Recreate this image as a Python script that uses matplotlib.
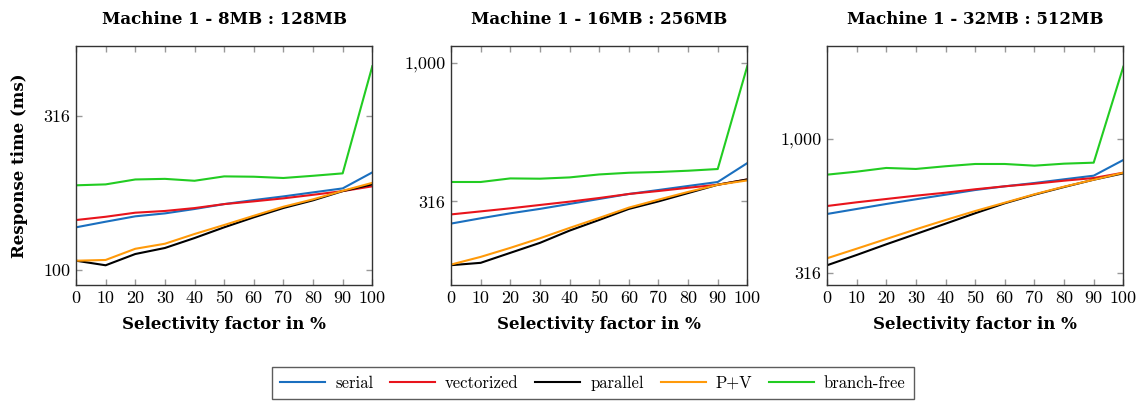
import numpy as np
import matplotlib
matplotlib.use("Agg")
import matplotlib.pyplot as plt
from matplotlib.ticker import FixedLocator, FuncFormatter, NullLocator

# selectivity factor in %
sel = [0, 10, 20, 30, 40, 50, 60, 70, 80, 90, 100]

titles = ["Machine 1 - 8MB : 128MB",
          "Machine 1 - 16MB : 256MB",
          "Machine 1 - 32MB : 512MB"]

# response times (ms), one list per panel
serial_8 = [137.6, 143.5, 149.4, 152.7, 157.8, 163.7, 168.7, 173.4, 178.7, 184.1, 207.5]
vector_8 = [145.3, 148.9, 153.5, 155.5, 158.9, 163.7, 167.1, 170.9, 175.5, 180.4, 187.0]
parall_8 = [107.2, 103.6, 112.7, 117.9, 127.0, 137.6, 148.3, 159.0, 168.4, 180.4, 189.7]
pv_8 = [107.2, 107.8, 117.2, 121.7, 130.9, 140.0, 150.0, 160.5, 169.6, 180.8, 191.9]
bfree_8 = [188.4, 189.7, 196.8, 197.7, 194.9, 201.4, 200.9, 199.0, 202.3, 206.0, 459.0]

serial_16 = [263.0, 274.8, 286.4, 297.1, 309.6, 322.6, 336.2, 347.5, 359.3, 371.4, 434.6]
vector_16 = [283.8, 291.0, 298.5, 306.9, 315.5, 325.2, 336.2, 344.6, 354.0, 363.0, 379.4]
parall_16 = [186.2, 189.9, 206.3, 224.1, 248.1, 271.1, 297.0, 316.2, 338.8, 363.0, 379.4]
pv_16 = [187.2, 199.5, 215.0, 232.8, 253.7, 275.6, 300.2, 320.7, 342.0, 363.0, 376.3]
bfree_16 = [371.4, 371.4, 382.6, 381.7, 385.8, 395.4, 401.0, 403.5, 407.8, 413.6, 973.0]

serial_32 = [524.6, 547.6, 571.6, 595.0, 618.9, 644.2, 665.0, 684.1, 706.2, 728.4, 833.2]
vector_32 = [561.7, 579.8, 596.5, 613.7, 629.6, 648.3, 665.0, 680.0, 697.8, 714.0, 747.3]
parall_32 = [338.0, 369.2, 404.6, 441.9, 482.8, 527.9, 575.1, 618.9, 661.0, 703.8, 743.4]
pv_32 = [358.9, 389.6, 423.4, 460.0, 498.2, 538.1, 577.9, 621.1, 662.9, 703.8, 747.3]
bfree_32 = [734.8, 753.9, 778.3, 771.6, 789.7, 805.2, 805.2, 793.6, 807.4, 814.3, 1853.0]

names = ["serial", "vectorized", "parallel", "P+V", "branch-free"]
colors = ["#1a6fbf", "#e8141c", "#000000", "#ff9a0a", "#22cc22"]

panels = [
    [serial_8, vector_8, parall_8, pv_8, bfree_8],
    [serial_16, vector_16, parall_16, pv_16, bfree_16],
    [serial_32, vector_32, parall_32, pv_32, bfree_32],
]
ylims = [(89.4, 534), (158, 1148), (285.5, 2213)]
yticks = [[100, 316], [316, 1000], [316, 1000]]
lefts = [0.0666, 0.3953, 0.7248]

bold = {"family": "DejaVu Serif", "weight": "bold", "size": 12}

fig = plt.figure(figsize=(11.41, 4.01), dpi=100)

for i in range(3):
    ax = fig.add_axes([lefts[i], 0.2893, 0.2597, 0.596])
    for vals, c, n in zip(panels[i], colors, names):
        ax.plot(sel, vals, color=c, lw=1.5, label=n)
    ax.set_yscale("log")
    ax.set_xlim(0, 100)
    ax.set_ylim(*ylims[i])
    ax.set_xticks(sel)
    ax.set_xticklabels([str(s) for s in sel], family="cmr10", fontsize=13)
    ax.yaxis.set_major_locator(FixedLocator(yticks[i]))
    ax.yaxis.set_minor_locator(NullLocator())
    ax.yaxis.set_major_formatter(FuncFormatter(lambda v, p: f"{v:,.0f}"))
    for t in ax.get_yticklabels():
        t.set_family("cmr10")
        t.set_fontsize(13)
    ax.tick_params(direction="in", top=True, right=True, length=4,
                   color="#999999", width=1, pad=4)
    for s in ax.spines.values():
        s.set_color("#333333")
        s.set_linewidth(1)
    ax.set_title(titles[i], fontdict=bold, pad=16)
    ax.set_xlabel("Selectivity factor in %", fontdict=bold, labelpad=7)
    if i == 0:
        ax.set_ylabel("Response time (ms)", fontdict=bold, labelpad=11)

handles, labels = ax.get_legend_handles_labels()
leg = fig.legend(handles, labels, loc="upper center", bbox_to_anchor=(0.5197, 0.0848),
                 ncol=5, frameon=True, fancybox=False, edgecolor="#333333",
                 prop={"family": "cmr10", "size": 12}, handlelength=2.7,
                 columnspacing=1.0, handletextpad=0.6, borderpad=0.5,
                 borderaxespad=0)
leg.get_frame().set_linewidth(1)

plt.savefig("out.png", dpi=100)
